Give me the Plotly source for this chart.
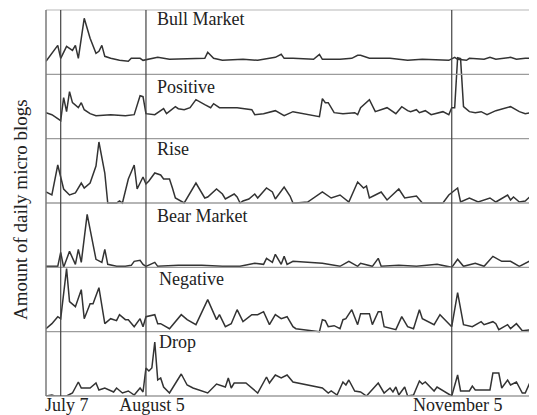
import plotly.graph_objects as go

# ---------------- data (day index, amount) ----------------
panel_names = ["Bull Market", "Positive", "Rise", "Bear Market", "Negative", "Drop"]

bull_day = [0,4,5,7,9,10,11,13,15,17,18,19,20,22,25,28,29,32,33,36,38,42,50,54,55,57,60,67,72,78,
            80,81,84,91,93,94,100,104,106,107,110,117,123,128,137,139,140,143,144,149,151,153,158,160,163,165]
bull_val = [13,29,16,28,24,29,16,56,36,21,23,29,18,16,14,13,16,16,14,16,17,15,16,16,22,16,14,15,14,17,
            20,16,16,15,20,15,15,16,19,19,16,16,14,15,14,17,15,14,16,15,17,15,17,15,16,16]

pos_day = [0,2,5,6,7,8,9,11,12,13,15,17,22,27,30,32,33,34,37,40,41,44,45,47,49,51,54,56,57,59,
           65,70,71,74,78,81,84,93,94,95,96,98,101,105,106,107,110,112,116,119,121,123,124,126,127,129,131,135,137,138,
           139,140,141,142,144,146,148,150,153,158,161,163,167]
pos_val = [26,24,18,41,27,47,36,31,36,29,25,23,24,23,24,43,42,25,24,30,25,32,30,29,31,39,34,31,35,31,
           31,29,24,25,28,23,27,22,40,36,36,26,25,26,24,31,39,27,31,25,32,28,27,29,26,28,24,27,24,31,
           31,81,80,32,27,26,27,24,28,32,27,25,27]

rise_day = [0,2,4,6,8,10,12,13,15,16,17,18,20,21,24,25,26,28,30,31,33,34,35,37,39,40,42,43,44,47,
            51,54,55,58,60,61,64,65,66,67,69,71,72,75,77,78,81,83,84,85,89,94,97,100,103,106,108,109,110,112,
            114,116,120,122,126,128,131,133,135,137,140,141,144,147,151,153,157,158,159,161,163,166,167]
rise_val = [11,8,38,14,8,10,20,15,20,28,37,61,30,0,0,2,0,24,38,14,26,19,22,30,28,24,24,15,5,0,
            20,5,6,14,9,4,9,6,0,2,4,9,5,15,11,4,16,7,0,0,1,11,5,8,1,21,15,17,5,8,
            11,3,14,5,7,0,0,0,0,8,15,1,5,1,5,1,8,3,6,1,2,10,0]

bear_day = [0,4,5,6,8,10,11,12,14,16,17,19,20,21,24,27,29,30,32,33,34,37,38,45,53,60,66,71,74,75,
            77,78,80,81,82,84,89,94,100,103,106,107,111,113,114,120,126,133,138,140,142,146,149,152,155,158,161,165,167]
bear_val = [1,1,15,0,16,3,18,5,53,21,8,5,18,3,1,1,2,6,7,3,1,5,1,2,2,1,1,4,3,9,
            5,13,3,11,3,6,5,4,1,6,1,4,1,9,1,2,1,3,0,8,1,4,1,11,6,6,1,7,4]

neg_day = [0,2,4,5,7,8,10,12,13,15,16,18,20,22,24,25,27,28,30,32,33,34,37,38,39,42,46,48,51,55,
           58,59,61,63,65,67,70,72,74,76,78,80,82,84,85,93,94,95,96,98,100,101,102,104,106,107,110,111,113,114,
           115,119,121,123,125,127,128,132,134,138,140,142,145,148,149,152,153,154,157,158,160,162,165,167]
neg_val = [3,8,15,13,63,30,25,42,13,28,28,44,8,13,11,17,12,12,5,13,5,15,17,8,8,3,17,12,7,32,
           12,17,5,8,22,10,17,17,20,7,17,13,15,5,3,0,12,11,5,6,3,12,13,22,7,18,18,7,20,20,
           5,2,15,5,3,22,13,7,17,5,39,7,5,10,7,10,8,2,7,3,8,1,2,0]

drop_day = [0,2,3,5,7,9,11,12,15,17,18,20,23,24,26,28,30,32,33,34,35,36,37,38,39,40,42,46,48,50,
            53,55,58,61,62,63,64,68,72,75,76,78,80,82,84,94,96,97,99,101,102,103,105,107,109,113,115,117,118,119,
            120,122,123,125,127,128,129,132,133,138,140,141,144,145,146,151,152,154,155,157,158,160,162,163,165,167]
drop_val = [0,1,0,0,0,3,14,8,8,13,6,8,4,8,3,5,1,8,4,28,25,28,54,16,18,9,3,22,11,8,
            5,3,12,9,18,8,13,13,3,19,13,21,18,21,14,8,3,5,1,14,11,16,5,4,0,13,3,8,4,9,
            1,9,0,1,15,12,14,5,9,0,21,5,5,10,6,6,23,23,8,16,11,14,3,3,16,13]

event_days = [5, 34, 138]
event_labels = ["July 7", "August 5", "November 5"]

series = [(bull_day, bull_val), (pos_day, pos_val), (rise_day, rise_val),
          (bear_day, bear_val), (neg_day, neg_val), (drop_day, drop_val)]

# ---------------- layout ----------------
# the page places the figure 8px in from the top-left corner (body margin)
OFF = 8
W, H = 537 - OFF, 415 - OFF
ML, MR, MT, MB = 46 - OFF, 0, 10 - OFF, 415 - 396
plot_w = W - ML - MR
plot_h = H - MT - MB
n = len(panel_names)
below = 0.03
FONT = "Liberation Serif"

fig = go.Figure()
layout_axes = {}
for p, (name, (d, v)) in enumerate(zip(panel_names, series)):
    b = (n - 1 - p) / n
    lo = max(0.0, b - below)
    ax_id = "" if p == n - 1 else str(p + 2)
    r0 = -(b - lo) * plot_h
    r1 = (1 - b) * plot_h
    layout_axes["yaxis" + ax_id] = dict(domain=[lo, 1], range=[r0, r1], visible=False,
                                        fixedrange=True, anchor="x", automargin=False)
    fig.add_trace(go.Scatter(x=d, y=v, mode="lines", name=name, yaxis="y" + ax_id,
                             line=dict(color="#333333", width=1.5), showlegend=False,
                             hoverinfo="skip"))

shapes = []
for k in range(n + 1):
    shapes.append(dict(type="line", xref="paper", yref="paper", x0=0, x1=1, y0=k / n, y1=k / n,
                       line=dict(color="#cfcfcf" if k == n else "#9c9c9c", width=1.3), layer="above"))
shapes.append(dict(type="line", xref="paper", yref="paper", x0=0, x1=0, y0=0, y1=1,
                   line=dict(color="#7a7a7a", width=1.5), layer="above"))
for ed in event_days:
    shapes.append(dict(type="line", xref="x", yref="paper", x0=ed, x1=ed, y0=0, y1=1,
                       line=dict(color="#444444", width=1.2), layer="above"))

# label centres in page pixels
label_cy = [19.5, 87, 149.5, 215.5, 278.5, 341.7]
label_x = [155, 155, 155, 155, 157, 157]
annotations = []
for name, cy, lx in zip(panel_names, label_cy, label_x):
    annotations.append(dict(text=name, xref="paper", yref="paper",
                            x=(lx - 46) / plot_w, y=(396 - cy) / plot_h,
                            xanchor="left", yanchor="middle", showarrow=False,
                            font=dict(family=FONT, size=18, color="#222")))
annotations.append(dict(text="Amount of daily micro blogs", xref="paper", yref="paper",
                        x=(20 - 46) / plot_w, y=(396 - 210) / plot_h,
                        xanchor="center", yanchor="middle", textangle=-90, showarrow=False,
                        font=dict(family=FONT, size=19, color="#222")))

fig.update_layout(
    width=W, height=H, margin=dict(l=ML, r=MR, t=MT, b=MB, autoexpand=False),
    paper_bgcolor="white", plot_bgcolor="rgba(0,0,0,0)",
    xaxis=dict(range=[0, 167], domain=[0, 1], anchor="y", tickvals=event_days, ticktext=event_labels,
               ticks="", showline=False, showgrid=False, zeroline=False, fixedrange=True,
               automargin=False,
               tickfont=dict(family=FONT, size=18, color="#222"), ticklabelshift=6,
               ticklabelstandoff=-4),
    shapes=shapes, annotations=annotations, **layout_axes,
)

fig.write_html("out.html")
